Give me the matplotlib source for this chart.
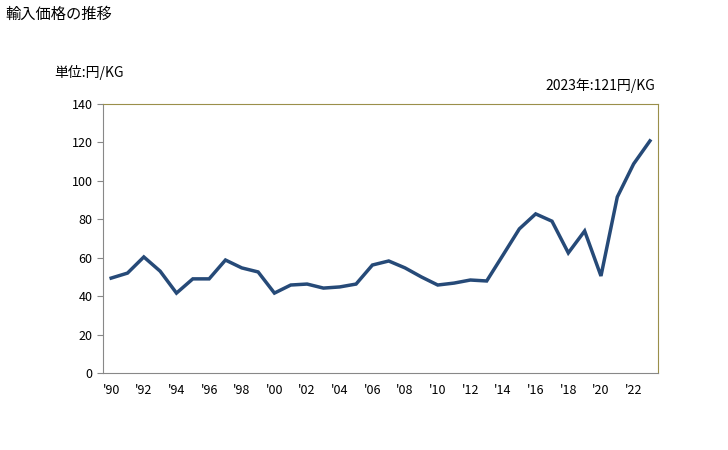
import matplotlib
matplotlib.use("Agg")
import matplotlib.pyplot as plt

plt.rcParams['font.family'] = ['Noto Sans CJK JP', 'DejaVu Sans']

# data
years = list(range(1990, 2024))
prices = [49.4, 52.0, 60.4, 53.0, 41.6, 49.0, 49.0, 58.8, 54.7, 52.6,
          41.6, 45.8, 46.3, 44.2, 44.8, 46.3, 56.2, 58.3, 54.7, 50.0,
          45.8, 46.8, 48.4, 47.9, 61.4, 75.0, 82.8, 79.0, 62.5, 73.9,
          50.5, 91.6, 108.8, 120.8]
tick_years = list(range(1990, 2023, 2))
tick_labels = ["'%02d" % (y % 100) for y in tick_years]

fig = plt.figure(figsize=(7.28, 4.5), dpi=100)
ax = fig.add_axes([0.1415, 0.171, 0.7625, 0.598])

ax.plot(years, prices, color='#264a78', linewidth=2.5, solid_joinstyle='miter')

ax.set_xlim(1989.5, 2023.5)
ax.set_ylim(0, 140)
ax.set_yticks(range(0, 141, 20))
ax.set_xticks(tick_years)
ax.set_xticklabels(tick_labels)
ax.tick_params(axis='y', length=4, color='#888888', labelsize=9)
ax.tick_params(axis='x', length=0, labelsize=9, pad=8)

for side in ['left', 'bottom']:
    ax.spines[side].set_color('#888888')
for side in ['top', 'right']:
    ax.spines[side].set_color('#9a8f4a')

fig.text(0.008, 0.968, '輸入価格の推移', fontsize=11, va='center', ha='left')
fig.text(0.074, 0.838, '単位:円/KG', fontsize=10, va='center', ha='left')
fig.text(0.9, 0.81, '2023年:121円/KG', fontsize=10, va='center', ha='right')

fig.savefig('out.png', dpi=100)
